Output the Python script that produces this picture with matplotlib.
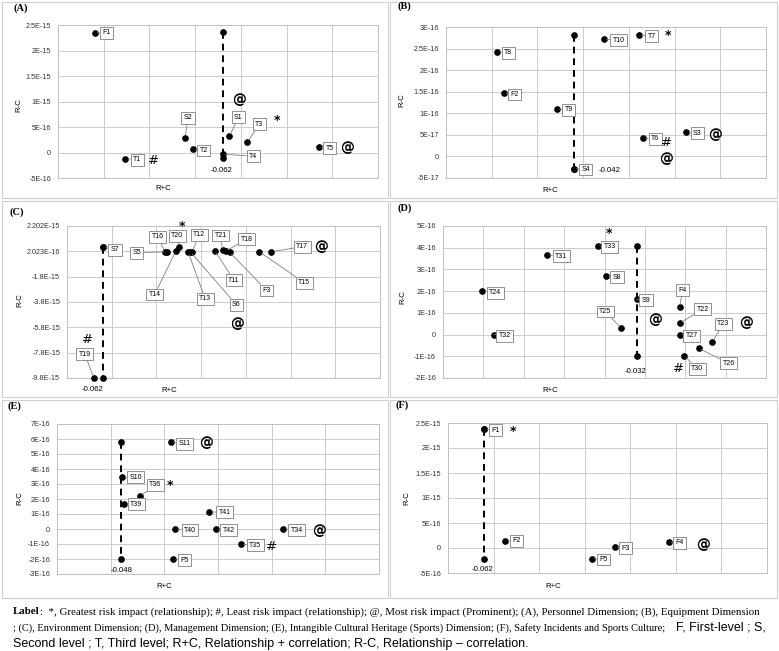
import matplotlib
matplotlib.use('Agg')
import matplotlib.pyplot as plt
from matplotlib.patches import Rectangle
import numpy as np

W, H = 779, 651

# ---- data (x in grid units, R+C axis has no tick labels) ----
# (A) Personnel Dimension
a_names = ['F1', 'T1', 'S2', 'T2', 'S1', 'T3', 'T4', 'T5']
a_x = [0.80, 1.47, 2.78, 2.95, 3.75, 4.14, 3.61, 5.70]
a_y = [2.35e-15, -1.2e-16, 2.9e-16, 0.6e-16, 3.2e-16, 2.0e-16, -0.33e-16, 1.05e-16]
a_line_x = [3.61, 3.61]
a_line_y = [2.37e-15, -1.05e-16]

# (B) Equipment Dimension
b_names = ['T8', 'F2', 'T9', 'S4', 'T10', 'T7', 'T6', 'S3']
b_x = [1.12, 1.26, 2.42, 2.79, 3.45, 4.22, 4.31, 5.26]
b_y = [2.43e-16, 1.46e-16, 1.10e-16, -0.28e-16, 2.72e-16, 2.81e-16, 0.43e-16, 0.56e-16]
b_line_x = [2.79, 2.79]
b_line_y = [2.81e-16, -0.28e-16]

# (C) Environment Dimension
c_names = ['S7', 'T19', 'T16', 'S5', 'T14', 'T20', 'T13', 'S6', 'T12',
           'T11', 'T21', 'T18', 'F3', 'T15', 'T17']
c_x = [0.81, 0.60, 2.19, 2.23, 2.43, 2.51, 2.71, 2.76, 2.80,
       3.31, 3.48, 3.55, 3.64, 4.30, 4.57]
c_y = [0.56e-15, -9.8e-15, 0.17e-15, 0.17e-15, 0.19e-15, 0.56e-15, 0.15e-15, 0.16e-15, 0.17e-15,
       0.22e-15, 0.27e-15, 0.22e-15, 0.11e-15, 0.17e-15, 0.17e-15]
c_line_x = [0.81, 0.81]
c_line_y = [0.56e-15, -9.8e-15]
c_ticklabels = ['-9.8E-15', '-7.8E-15', '-5.8E-15', '-3.8E-15', '-1.8E-15', '2.023E-16', '2.202E-15']

# (D) Management Dimension
d_names = ['T24', 'T32', 'T31', 'T33', 'S8', 'T25', 'S9', 'F4', 'T22', 'T27', 'T30', 'T26', 'T23']
d_x = [0.97, 1.26, 2.58, 3.83, 4.04, 4.42, 4.80, 5.86, 5.86, 5.86, 5.98, 6.33, 6.67]
d_y = [2.02e-16, 0.0, 3.66e-16, 4.08e-16, 2.68e-16, 0.28e-16, 1.63e-16, 1.26e-16,
       0.52e-16, 0.0, -0.98e-16, -0.63e-16, -0.34e-16]
d_line_x = [4.80, 4.80]
d_line_y = [4.09e-16, -0.98e-16]

# (E) Intangible Cultural Heritage (Sports) Dimension
e_names = ['S10', 'T39', 'T36', 'S11', 'T40', 'F5', 'T41', 'T42', 'T35', 'T34']
e_x = [1.22, 1.25, 1.55, 2.12, 2.20, 2.16, 2.84, 2.96, 3.43, 4.22]
e_y = [3.44e-16, 1.64e-16, 2.2e-16, 5.82e-16, 0.0, -2.0e-16, 1.13e-16, 0.0, -1.02e-16, 0.0]
e_line_x = [1.19, 1.19]
e_line_y = [5.82e-16, -2.0e-16]

# (F) Safety Incidents and Sports Culture
f_names = ['F1', 'F2', 'F5', 'F3', 'F4']
f_x = [0.80, 1.26, 3.15, 3.66, 4.84]
f_y = [2.38e-15, 1.4e-16, -2.1e-16, 0.2e-16, 1.2e-16]
f_line_x = [0.80, 0.80]
f_line_y = [2.38e-15, -2.1e-16]

# ---- layout ----
plt.rcParams['font.family'] = ['Liberation Sans', 'DejaVu Sans']
fig = plt.figure(figsize=(W / 100, H / 100), dpi=100)


def fx(x):
    return x / W


def fy(y):
    return 1 - y / H


def efmt(v):
    if abs(v) < 1e-30:
        return '0'
    s = f'{v:.1E}'
    m, e = s.split('E')
    if m.endswith('.0'):
        m = m[:-2]
    e = int(e)
    return f'{m}E{e:+03d}'.replace('+', '')


# panel frames
for (l, t, r, b) in [(2, 2, 388, 198), (390, 2, 777, 198),
                     (2, 201, 388, 397), (390, 201, 777, 397),
                     (2, 400, 388, 598), (390, 400, 777, 598)]:
    fig.patches.append(Rectangle((fx(l), fy(b)), (r - l) / W, (b - t) / H,
                                 transform=fig.transFigure, fill=False,
                                 ec='#cfcfcf', lw=0.8))

panels = [
    dict(tag='(A)', box=(58, 25, 378, 178), names=a_names, x=a_x, y=a_y,
         lx=a_line_x, ly=a_line_y, xmax=7, ylim=(-5e-16, 2.5e-15), ystep=5e-16,
         title=(13, 8), ylab=(19, 105), xlab=(163, 189),
         off={'F1': (12, 0), 'T1': (12, -1), 'S2': (3, 20), 'T2': (11, -1),
              'S1': (9, 19), 'T3': (12, 18), 'T4': (30, -2), 'T5': (11, -1)},
         marks=[('@', 3.96, 1.03e-15), ('@', 6.33, 0.8e-16), ('*', 4.8, 6.2e-16),
                ('#', 2.1, -1.6e-16)],
         val=('-0.062', 3.58, -3.5e-16)),
    dict(tag='(B)', box=(446, 27, 766, 178), names=b_names, x=b_x, y=b_y,
         lx=b_line_x, ly=b_line_y, xmax=7, ylim=(-5e-17, 3e-16), ystep=5e-17,
         title=(397, 6), ylab=(402, 100), xlab=(550, 190),
         off={'T8': (11, -1), 'F2': (11, -1), 'T9': (12, -1), 'S4': (12, -1),
              'T10': (15, -1), 'T7': (13, -1), 'T6': (12, -1), 'S3': (11, -1)},
         marks=[('*', 4.85, 2.81e-16), ('@', 5.89, 0.49e-16), ('#', 4.83, 0.33e-16),
                ('@', 4.82, -0.07e-16)],
         val=('-0.042', 3.59, -0.32e-16)),
    dict(tag='(C)', box=(67, 226, 380, 378), names=c_names, x=c_x, y=c_y,
         lx=c_line_x, ly=c_line_y, xmax=7, ylim=(-9.8e-15, 2.2e-15), ystep=2e-15,
         ticklabels=c_ticklabels,
         title=(9, 212), ylab=(20, 300), xlab=(169, 390),
         off={'S7': (12, -3), 'T19': (-9, 24), 'T16': (-7, 15), 'S5': (-30, -1),
              'T14': (-21, -43), 'T20': (-2, 11), 'T12': (7, 17), 'T13': (17, -47),
              'S6': (46, -53), 'T11': (19, -29), 'T21': (-2, 15), 'T18': (21, 12),
              'F3': (37, -38), 'T15': (45, -31), 'T17': (31, 5)},
         marks=[('*', 2.58, 2.15e-15), ('@', 5.68, 0.56e-15), ('@', 3.81, -5.5e-15),
                ('#', 0.45, -6.77e-15)],
         val=('-0.062', 0.58, -10.73e-15)),
    dict(tag='(D)', box=(443, 226, 766, 378), names=d_names, x=d_x, y=d_y,
         lx=d_line_x, ly=d_line_y, xmax=8, ylim=(-2e-16, 5e-16), ystep=1e-16,
         title=(397, 208), ylab=(403, 297), xlab=(550, 391),
         off={'T24': (13, -2), 'T32': (11, -1), 'T31': (14, -1), 'T33': (12, -1),
              'S8': (11, -1), 'T25': (-16, 17), 'S9': (9, -1), 'F4': (3, 17),
              'T22': (23, 14), 'T27': (12, -1), 'T30': (13, -13), 'T26': (30, -15),
              'T23': (11, 18)},
         marks=[('*', 4.10, 4.66e-16), ('@', 5.26, 0.66e-16), ('#', 5.84, -1.57e-16),
                ('@', 7.51, 0.54e-16)],
         val=('-0.032', 4.78, -1.7e-16)),
    dict(tag='(E)', box=(57, 424, 379, 574), names=e_names, x=e_x, y=e_y,
         lx=e_line_x, ly=e_line_y, xmax=6, ylim=(-3e-16, 7e-16), ystep=1e-16,
         title=(7, 406), ylab=(20, 498), xlab=(164, 586),
         off={'S10': (13, 0), 'T39': (12, 0), 'T36': (15, 11), 'S11': (14, -2),
              'T40': (15, -1), 'F5': (12, -1), 'T41': (15, 0), 'T42': (13, -1),
              'T35': (14, -1), 'T34': (13, -1)},
         marks=[('*', 2.11, 2.87e-16), ('@', 2.78, 5.76e-16), ('#', 3.99, -1.18e-16),
                ('@', 4.88, -0.11e-16)],
         val=('-0.048', 1.21, -2.8e-16)),
    dict(tag='(F)', box=(448, 423, 767, 573), names=f_names, x=f_x, y=f_y,
         lx=f_line_x, ly=f_line_y, xmax=7, ylim=(-5e-16, 2.5e-15), ystep=5e-16,
         title=(396, 405), ylab=(407, 498), xlab=(553, 586),
         off={'F1': (11, -1), 'F2': (11, 0), 'F5': (12, -1), 'F3': (11, -1),
              'F4': (11, -1)},
         marks=[('*', 1.43, 2.34e-15), ('@', 5.6, 0.6e-16)],
         val=('-0.062', 0.77, -4.25e-16)),
]

for p in panels:
    l, t, r, b = p['box']
    ax = fig.add_axes([fx(l), fy(b), (r - l) / W, (b - t) / H])
    y0, y1 = p['ylim']
    yt = np.arange(y0, y1 + p['ystep'] / 2, p['ystep'])
    ax.set_xlim(0, p['xmax'])
    ax.set_ylim(y0, y1)
    ax.set_xticks(np.arange(0, p['xmax'] + 1))
    ax.set_yticks(yt)
    ax.set_xticklabels([])
    if 'ticklabels' in p:
        ax.set_yticklabels(p['ticklabels'])
    else:
        ax.set_yticklabels([efmt(v) for v in yt])
    ax.tick_params(length=0, labelsize=5.2, pad=5, colors='#333333')
    ax.grid(True, color='#cccccc', lw=0.7)
    ax.set_axisbelow(True)
    for s in ax.spines.values():
        s.set_color('#bfbfbf')
        s.set_linewidth(0.7)

    # threshold line
    ax.plot(p['lx'], p['ly'], color='black', ls=(0, (3.5, 2.5)), lw=1.4,
            marker='o', ms=3.8, clip_on=False, zorder=3)
    ax.plot(p['x'], p['y'], 'o', color='black', ms=3.8, clip_on=False, zorder=4)

    for name, xv, yv in zip(p['names'], p['x'], p['y']):
        dx, dy = p['off'][name]
        ax.annotate(name, (xv, yv), xytext=(dx, dy), textcoords='offset pixels',
                    ha='center', va='center', fontsize=5.0, zorder=5,
                    bbox=dict(boxstyle='square,pad=0.35', fc='white', ec='#7f7f7f', lw=0.6),
                    arrowprops=dict(arrowstyle='-', color='#7f7f7f', lw=0.6,
                                    shrinkA=0, shrinkB=2))

    for sym, xv, yv in p['marks']:
        if sym == '@':
            ax.text(xv, yv, sym, fontsize=10, fontweight='bold', ha='center', va='center',
                    family=['DejaVu Sans'], zorder=5)
        elif sym == '*':
            ax.text(xv, yv, sym, fontsize=9, fontweight='bold', ha='center', va='center',
                    family=['DejaVu Sans'], zorder=5)
        else:
            ax.text(xv, yv, sym, fontsize=9.5, ha='center', va='center',
                    family=['DejaVu Sans'], zorder=5)

    txt, xv, yv = p['val']
    ax.text(xv, yv, txt, fontsize=5.6, ha='center', va='center', clip_on=False, zorder=5)

    tx, ty = p['title']
    fig.text(fx(tx), fy(ty), p['tag'], fontsize=7.5, fontweight='bold', ha='left', va='center',
             family=['Liberation Serif'])
    yx, yy = p['ylab']
    fig.text(fx(yx), fy(yy), 'R-C', fontsize=5.6, rotation=90, ha='center', va='center')
    xx, xy = p['xlab']
    fig.text(fx(xx), fy(xy), 'R+C', fontsize=5.6, ha='center', va='center')

# ---- caption ----
renderer = fig.canvas.get_renderer()


def run(pieces, x0, y):
    x = x0
    for s, kw in pieces:
        t = fig.text(fx(x), fy(y), s, ha='left', va='center', **kw)
        bb = t.get_window_extent(renderer)
        x += bb.width


serif = dict(family=['Liberation Serif'], fontsize=7.85)
serif_b = dict(family=['Liberation Serif'], fontsize=7.85, fontweight='bold')
serif2 = dict(family=['Liberation Serif'], fontsize=7.5)
sans = dict(family=['Liberation Sans'], fontsize=9.0)

run([('Label', serif_b),
     (':  *, Greatest risk impact (relationship); #, Least risk impact (relationship); '
      '@, Most risk impact (Prominent); (A), Personnel Dimension; (B), Equipment Dimension', serif)],
    13, 612)
run([('; (C), Environment Dimension; (D), Management Dimension; (E), Intangible Cultural '
      'Heritage (Sports) Dimension; (F), Safety Incidents and Sports Culture;', serif2)],
    13, 628)
fig.text(fx(676), fy(628), 'F, First-level ; S,', ha='left', va='center', **sans)
run([('Second level ; T, Third level; R+C, Relationship + correlation; R-C, Relationship \u2013 correlation.', sans)],
    13, 644)

fig.savefig('out.png', dpi=100)
